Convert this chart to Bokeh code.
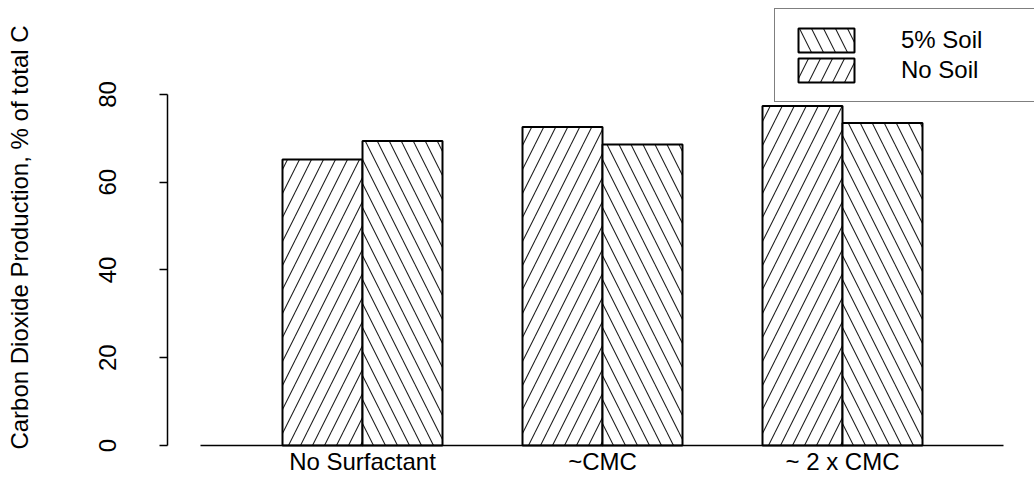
from bokeh.plotting import figure
from bokeh.models import Range1d, FixedTicker, Legend, LegendItem, ColumnDataSource
from bokeh.transform import dodge
from bokeh.embed import file_html
from bokeh.resources import INLINE

# ---- data ----
categories = ["No Surfactant", "~CMC", "~ 2 x CMC"]
no_soil = [65.2, 72.6, 77.4]
soil_5 = [69.4, 68.6, 73.5]
y_ticks = [0, 20, 40, 60, 80]
series_labels = ["5% Soil", "No Soil"]
y_title = "Carbon Dioxide Production, % of total C"

FONT = "Liberation Sans"
xs = list(range(len(categories)))
src = ColumnDataSource(dict(x=xs, no_soil=no_soil, soil_5=soil_5))

p = figure(width=1034, height=481, output_backend="svg", toolbar_location=None,
           x_range=Range1d(-0.8125, 2.8), y_range=Range1d(-6.61, 101.42),
           min_border_left=167, min_border_right=0, min_border_top=0,
           min_border_bottom=7)
p.outline_line_color = None
p.xgrid.visible = False
p.ygrid.visible = False
p.background_fill_color = "white"

bar_w = 1 / 3
HS = 24
r_nosoil = p.vbar(x=dodge("x", -bar_w / 2, range=p.x_range), top="no_soil", width=bar_w,
                  bottom=0, source=src, fill_color="white", line_color="black",
                  line_width=2, hatch_pattern="/", hatch_color="#222222",
                  hatch_scale=HS, hatch_weight=1.1)
r_soil = p.vbar(x=dodge("x", bar_w / 2, range=p.x_range), top="soil_5", width=bar_w,
                bottom=0, source=src, fill_color="white", line_color="black",
                line_width=2, hatch_pattern="\\", hatch_color="#222222",
                hatch_scale=HS, hatch_weight=1.1)

# y axis
ya = p.yaxis[0]
ya.ticker = FixedTicker(ticks=y_ticks)
ya.bounds = (y_ticks[0], y_ticks[-1])
ya.major_label_orientation = "vertical"
ya.major_tick_out = 8
ya.major_tick_in = 0
ya.minor_tick_out = 0
ya.minor_tick_in = 0
ya.axis_line_width = 1.5
ya.major_tick_line_width = 1.5
ya.major_label_standoff = 43
ya.major_label_text_font = FONT
ya.major_label_text_font_size = "24px"
ya.major_label_text_color = "black"
ya.axis_label = y_title
ya.axis_label_text_font = FONT
ya.axis_label_text_font_size = "24px"
ya.axis_label_text_font_style = "normal"
ya.axis_label_text_color = "black"
ya.axis_label_standoff = 64

# x axis (drawn at y = 0)
xa = p.xaxis[0]
xa.fixed_location = 0
xa.ticker = FixedTicker(ticks=xs)
xa.major_label_overrides = {i: c for i, c in zip(xs, categories)}
xa.bounds = (-0.675, 2.671)
xa.major_tick_out = 0
xa.major_tick_in = 0
xa.minor_tick_out = 0
xa.minor_tick_in = 0
xa.axis_line_width = 1.5
xa.major_label_standoff = 3
xa.major_label_text_font = FONT
xa.major_label_text_font_size = "24px"
xa.major_label_text_color = "black"

legend = Legend(items=[LegendItem(label=series_labels[0], renderers=[r_soil]),
                       LegendItem(label=series_labels[1], renderers=[r_nosoil])],
                location=(607, 372), orientation="vertical",
                glyph_width=70, glyph_height=30, label_standoff=40,
                label_width=160, label_height=30, padding=16, spacing=0, margin=0,
                label_text_font=FONT, label_text_font_size="24px",
                label_text_color="black",
                border_line_color="black", border_line_width=1.5,
                background_fill_color="white", background_fill_alpha=1.0)
p.add_layout(legend)

open("out.html", "w").write(file_html(p, INLINE))
